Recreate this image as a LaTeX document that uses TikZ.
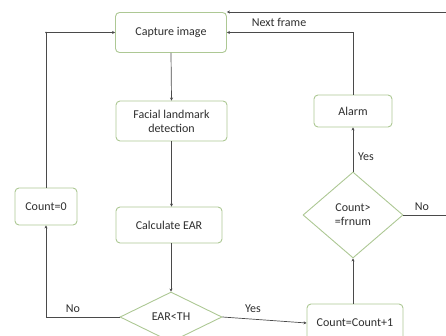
\documentclass[tikz,border=0pt]{standalone}
\usepackage{fontspec}
\setmainfont{Carlito}
\usetikzlibrary{shapes.geometric,arrows.meta}
\definecolor{bordc}{HTML}{ADC894}
\definecolor{linec}{HTML}{4A4A4A}
\definecolor{txtc}{HTML}{2E2E2E}
\begin{document}
\begin{tikzpicture}[x=1pt,y=-1pt,
  box/.style={draw=bordc, line width=0.9pt, rounded corners=4pt, fill=white, text=txtc, align=center, inner sep=0pt, font=\fontsize{12}{14}\selectfont},
  dia/.style={draw=bordc, line width=0.9pt, diamond, fill=white, text=txtc, align=center, inner sep=0pt, font=\fontsize{12}{14}\selectfont},
  conn/.style={draw=linec, line width=0.7pt, -{Stealth[length=3pt,width=3pt]}},
  plain/.style={draw=linec, line width=0.7pt},
  lbl/.style={text=txtc, font=\fontsize{12}{14}\selectfont, inner sep=0pt}]
\useasboundingbox (0,0) rectangle (446,336);
\node[box, minimum width=111pt, minimum height=40pt] (cap) at (171,32.5) {Capture image};
\node[box, minimum width=111pt, minimum height=40pt] (fac) at (171.5,121) {Facial landmark\\detection};
\node[box, minimum width=106pt, minimum height=36pt] (calc) at (169,225) {Calculate EAR};
\node[box, minimum width=62pt, minimum height=37pt] (cnt) at (46,206.5) {Count=0};
\node[box, minimum width=78pt, minimum height=32pt] (alarm) at (353,111) {Alarm};
\node[box, minimum width=96pt, minimum height=38pt] (inc) at (355,323) {Count=Count+1};
\node[dia, minimum width=102pt, minimum height=50pt] (d1) at (171,317) {EAR<TH};
\node[dia, minimum width=100pt, minimum height=86pt] (d2) at (353,215) {Count>\\=frnum};
\coordinate (rt) at (447,12);
\coordinate (re) at (447,215);
\draw[conn] (rt) -- (rt -| cap.east);
\draw[conn] (alarm.north) |- (cap.east);
\draw[conn] (cnt.north) |- (cap.west);
\fill[linec] (cnt.north |- cap.west) circle (0.9pt);
\draw[conn] (cap.south) -- (fac.north);
\draw[conn] (fac.south) -- (fac.south |- calc.north);
\draw[conn] (calc.south -| d1.north) -- (d1.north);
\draw[conn] (d1.west) -| (cnt.south);
\draw[conn] (d1.east) -- (inc.west);
\draw[conn] (d2.south |- inc.north) -- (d2.south);
\draw[conn] (d2.north) -- (alarm.south);
\draw[plain] (d2.east) -- (re);
\node[lbl] (nf) at (279,22) {Next frame};
\node[lbl] (no1) at (73,309) {No};
\node[lbl] (yes1) at (253,309) {Yes};
\node[lbl] (yes2) at (366,157) {Yes};
\node[lbl] (no2) at (422,207) {No};
\end{tikzpicture}
\end{document}
